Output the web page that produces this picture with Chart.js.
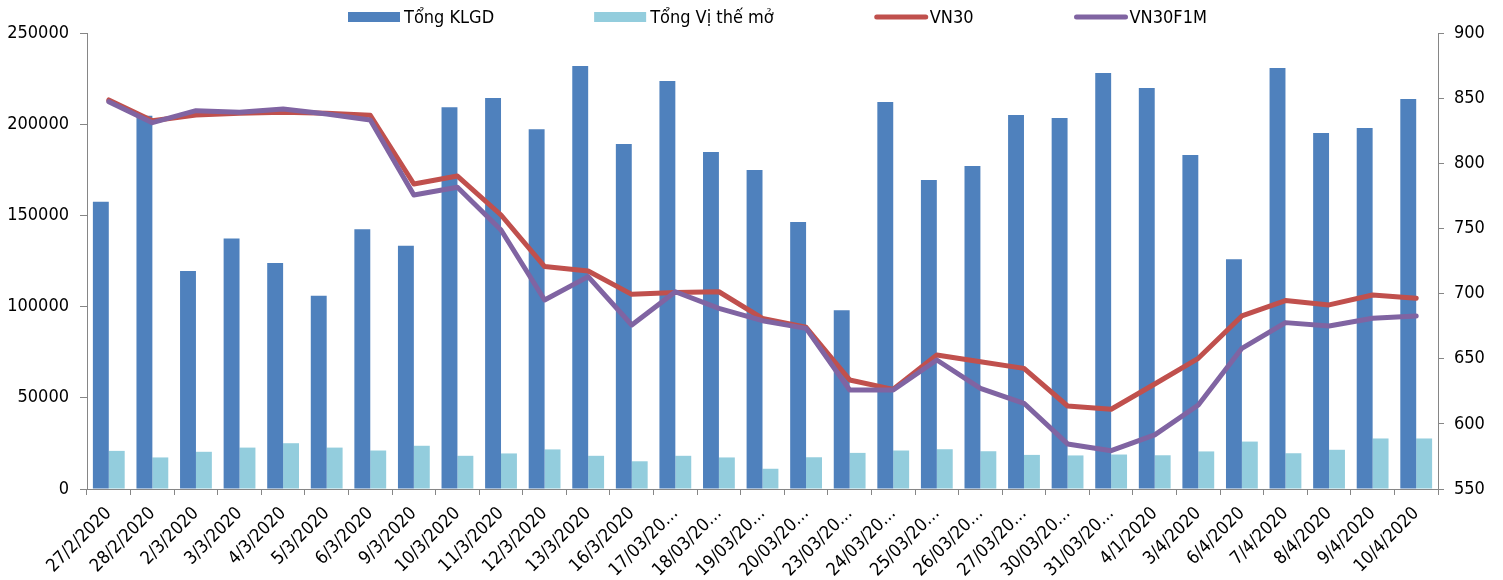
<!DOCTYPE html>
<html>
<head>
<meta charset="utf-8">
<title>KLGD & VN30</title>
<script src="https://cdn.jsdelivr.net/npm/chart.js@4/dist/chart.umd.min.js"></script>
<style>
  html, body { margin: 0; padding: 0; background: #fff; }
  #wrap { width: 1503px; height: 580px; }
</style>
</head>
<body>
<div id="wrap"><canvas id="chart" width="1503" height="580"></canvas></div>
<script>
// ---- data ----
const labels = ['27/2/2020', '28/2/2020', '2/3/2020', '3/3/2020', '4/3/2020', '5/3/2020', '6/3/2020',
  '9/3/2020', '10/3/2020', '11/3/2020', '12/3/2020', '13/3/2020', '16/3/2020', '17/03/20…',
  '18/03/20…', '19/03/20…', '20/03/20…', '23/03/20…', '24/03/20…', '25/03/20…', '26/03/20…',
  '27/03/20…', '30/03/20…', '31/03/20…', '4/1/2020', '3/4/2020', '6/4/2020', '7/4/2020',
  '8/4/2020', '9/4/2020', '10/4/2020'];

const tongKLGD = [157500, 204700, 119500, 137400, 123900, 106000, 142400, 133400, 209300, 214400,
  197200, 231900, 189100, 223700, 184800, 174900, 146400, 98000, 212200, 169400, 177100,
  205000, 203400, 228100, 219800, 183100, 125900, 230800, 195200, 197900, 213800];

const tongViTheMo = [20900, 17300, 20400, 22700, 25100, 22700, 21100, 23700, 18200, 19500,
  21700, 18200, 15200, 18200, 17300, 11100, 17400, 19800, 21100, 21800, 20700,
  18700, 18400, 18900, 18500, 20600, 26000, 19600, 21500, 27700, 27700];

const vn30 = [848.6, 832.7, 837.1, 838.4, 839.1, 838.4, 836.8, 784.1, 790.2, 760.3,
  720.7, 717.3, 699.4, 700.9, 701.4, 681.0, 674.1, 633.7, 626.5, 652.9, 647.7,
  642.6, 613.7, 611.2, 630.6, 650.3, 682.8, 694.6, 691.3, 698.9, 696.4];

const vn30f1m = [847.3, 831.2, 840.4, 839.1, 841.7, 837.8, 833.2, 775.7, 781.6, 748.8,
  695.1, 713.0, 675.9, 701.4, 688.7, 679.2, 673.3, 626.0, 626.0, 649.0, 627.3,
  615.8, 584.6, 579.4, 591.5, 614.5, 658.0, 677.7, 675.1, 681.0, 682.8];

// ---- style ----
const FONT_FAMILY = "'DejaVu Sans Condensed', 'Liberation Sans', sans-serif";
const FONT_SIZE = 18;
const AXIS_COLOR = '#868686';
const C = { dark: '#4F81BD', light: '#93CDDD', red: '#C0504D', purple: '#8064A2' };

// legend drawn across the top, Excel style
const topLegend = {
  id: 'topLegend',
  afterDraw(chart) {
    const ctx = chart.ctx;
    const y = 17;
    let x = 348;
    ctx.save();
    ctx.font = `${FONT_SIZE}px ${FONT_FAMILY}`;
    ctx.textBaseline = 'middle';
    chart.data.datasets.forEach(ds => {
      if (ds.type === 'line') {
        ctx.strokeStyle = ds.borderColor;
        ctx.lineWidth = 5;
        ctx.lineCap = 'round';
        ctx.beginPath();
        ctx.moveTo(x + 3, y);
        ctx.lineTo(x + 52, y);
        ctx.stroke();
      } else {
        ctx.fillStyle = ds.backgroundColor;
        ctx.fillRect(x, y - 5, 52, 10);
      }
      ctx.fillStyle = '#000';
      ctx.fillText(ds.label, x + 56, y + 1);
      x += 56 + ctx.measureText(ds.label).width + 100;
    });
    ctx.restore();
  }
};

const tickFont = { family: FONT_FAMILY, size: FONT_SIZE };

new Chart(document.getElementById('chart'), {
  data: {
    labels,
    datasets: [
      { type: 'bar', label: 'Tổng KLGD', data: tongKLGD, yAxisID: 'y',
        backgroundColor: C.dark, order: 2 },
      { type: 'bar', label: 'Tổng Vị thế mở', data: tongViTheMo, yAxisID: 'y',
        backgroundColor: C.light, order: 2 },
      { type: 'line', label: 'VN30', data: vn30, yAxisID: 'y1',
        borderColor: C.red, backgroundColor: C.red, borderWidth: 5, pointRadius: 0,
        tension: 0, borderCapStyle: 'round', borderJoinStyle: 'round', order: 1 },
      { type: 'line', label: 'VN30F1M', data: vn30f1m, yAxisID: 'y1',
        borderColor: C.purple, backgroundColor: C.purple, borderWidth: 5, pointRadius: 0,
        tension: 0, borderCapStyle: 'round', borderJoinStyle: 'round', order: 0 }
    ]
  },
  options: {
    responsive: false,
    animation: false,
    layout: { padding: { top: 33, bottom: 0, left: 0, right: 0 } },
    datasets: { bar: { categoryPercentage: 0.73, barPercentage: 1.0 } },
    plugins: { legend: { display: false }, tooltip: { enabled: false } },
    scales: {
      x: {
        offset: true,
        grid: { display: true, drawOnChartArea: false, offset: true, color: AXIS_COLOR, tickLength: 6 },
        border: { color: AXIS_COLOR, width: 1 },
        ticks: { color: '#000', font: tickFont, minRotation: 45, maxRotation: 45, autoSkip: false, padding: 8 },
        afterFit: s => { s.height = 91; }
      },
      y: {
        position: 'left', min: 0, max: 250000,
        grid: { display: true, drawOnChartArea: false, color: AXIS_COLOR, tickLength: 7 },
        border: { color: AXIS_COLOR, width: 1 },
        ticks: { stepSize: 50000, color: '#000', font: tickFont, padding: 11, callback: v => String(v) },
        afterFit: s => { s.width = 87; }
      },
      y1: {
        position: 'right', min: 550, max: 900,
        grid: { display: true, drawOnChartArea: false, color: AXIS_COLOR, tickLength: 6 },
        border: { color: AXIS_COLOR, width: 1 },
        ticks: { stepSize: 50, color: '#000', font: tickFont, padding: 10, callback: v => String(v) },
        afterFit: s => { s.width = 65; }
      }
    }
  },
  plugins: [topLegend]
});
</script>
</body>
</html>
